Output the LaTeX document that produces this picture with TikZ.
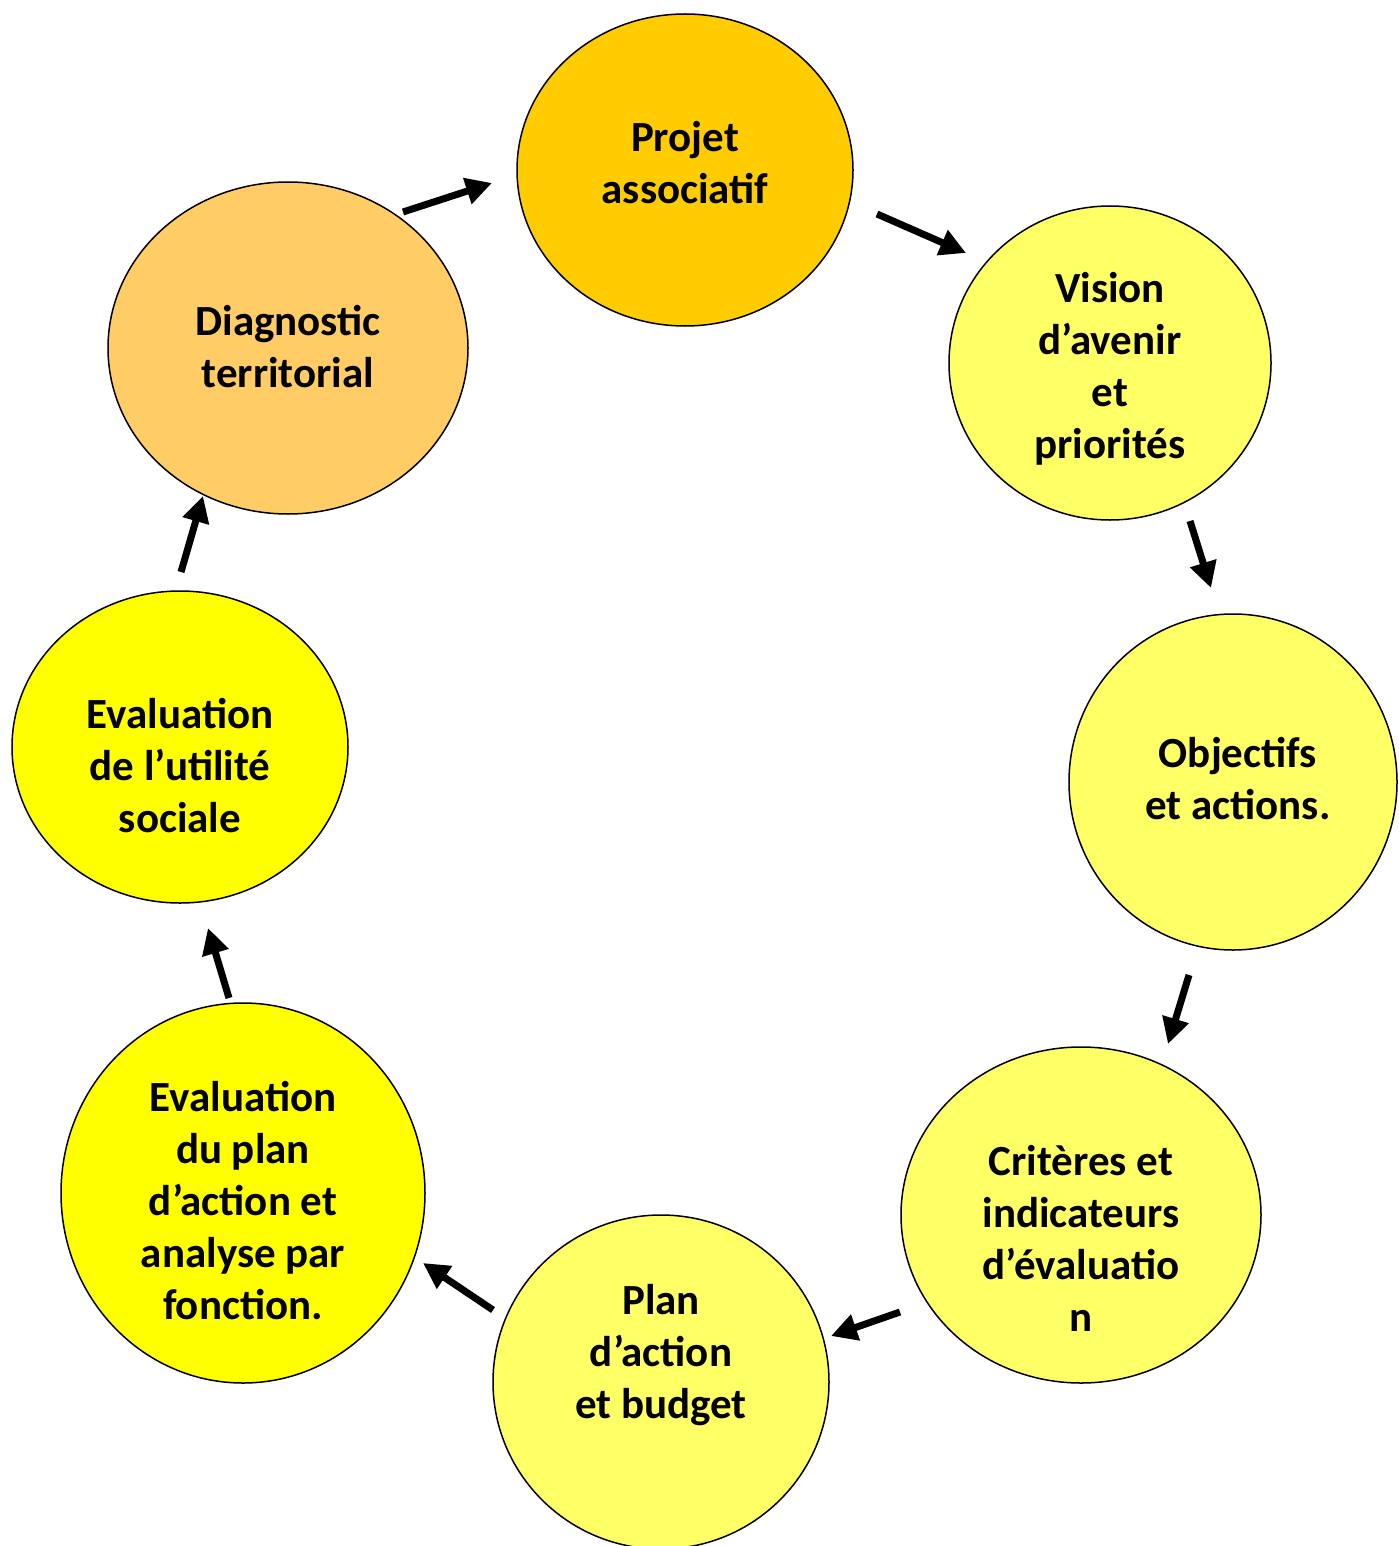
\documentclass[tikz,border=0pt]{standalone}
\usepackage{fontspec}
\setmainfont{Carlito}
\usepackage{xcolor}
\usepackage{tikz}
\usetikzlibrary{shapes, positioning, calc, arrows.meta}

\definecolor{gold}{HTML}{FFCC00}
\definecolor{paleyel}{HTML}{FFFF66}
\definecolor{brightyel}{HTML}{FFFF00}
\definecolor{peach}{HTML}{FFCC66}

\tikzset{
	bubble/.style={ellipse, draw=black, line width=0.75pt, inner sep=0pt},
	bubbletext/.style={align=center, font=\fontsize{21.5}{26}\selectfont\bfseries},
	cyclearrow/.style={line width=3.5pt, -{Triangle[length=13pt,width=13pt]}}
}

\begin{document}
\begin{tikzpicture}[x=0.5pt, y=-0.5pt]
		
		\useasboundingbox (0,0) rectangle (1398,1546);
		
		%//the eight steps of the cycle
		\node [bubble, fill=gold, minimum width=168pt, minimum height=156pt] (proj) at (685,170) {};
		\node [bubble, fill=paleyel, minimum width=161pt, minimum height=157pt] (vision) at (1110,363) {};
		\node [bubble, fill=paleyel, minimum width=164pt, minimum height=168pt] (obj) at (1233,782) {};
		\node [bubble, fill=paleyel, minimum width=180pt, minimum height=168pt] (crit) at (1081,1215) {};
		\node [bubble, fill=paleyel, minimum width=168pt, minimum height=167pt] (plan) at (661,1382) {};
		\node [bubble, fill=brightyel, minimum width=182pt, minimum height=190pt] (evalplan) at (243,1193) {};
		\node [bubble, fill=brightyel, minimum width=168pt, minimum height=156pt] (evalutil) at (180,747) {};
		\node [bubble, fill=peach, minimum width=180pt, minimum height=166pt] (diag) at (288,348) {};
		
		%//texts
		\node [bubbletext] (projtxt) at (685,163) {Projet\\associatif};
		\node [bubbletext] (visiontxt) at (1110,369) {Vision\\d’avenir\\et\\priorités};
		\node [bubbletext] (objtxt) at (1238,779) {Objectifs\\et actions.};
		\node [bubbletext] (crittxt) at (1081,1238) {Critères et\\indicateurs\\d’évaluatio\\n};
		\node [bubbletext] (plantxt) at (661,1355) {Plan\\d’action\\et budget};
		\node [bubbletext] (evalplantxt) at (243,1201) {Evaluation\\du plan\\d’action et\\analyse par\\fonction.};
		\node [bubbletext] (evalutiltxt) at (180,766) {Evaluation\\de l’utilité\\sociale};
		\node [bubbletext] (diagtxt) at (288,347) {Diagnostic\\territorial};
		
		%//arrows between the steps
		\foreach \i/\sx/\sy/\ex/\ey in {1/403/212/492/183, 2/877/214/966/253, 3/1190/521/1211/588, 4/1189/975/1168/1044, 5/900/1312/831/1336, 6/493/1310/423/1263, 7/229/998/208/928, 8/181/572/203/496}
		{
			\coordinate (s\i) at (\sx,\sy);
			\coordinate (e\i) at (\ex,\ey);
			\draw [cyclearrow] (s\i) -- (e\i);
		}
		
\end{tikzpicture}
\end{document}
